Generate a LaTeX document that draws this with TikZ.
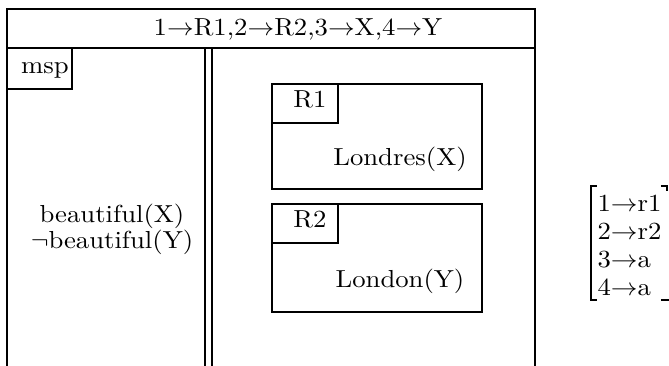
\documentclass[tikz,border=0pt]{standalone}
\usepackage{graphicx}
% text in this figure is set very slightly flattened
\newcommand{\squash}[1]{\scalebox{1.02}[0.94]{#1}}
\begin{document}
\begin{tikzpicture}[x=0.382pt,y=-0.382pt,
  frame/.style={line width=0.8pt},
  lbl/.style={inner sep=0pt,anchor=base},
  row/.style={inner sep=0pt,anchor=base west}]
\useasboundingbox (0,0) rectangle (669,366);
% outer frame, open at the bottom
\draw[frame] (7,366) -- (7,9) -- (535,9) -- (535,366);
\draw[frame] (7,48) -- (535,48);
\node[lbl] (head) at (298,36) {\squash{1$\rightarrow$R1,2$\rightarrow$R2,3$\rightarrow$X,4$\rightarrow$Y}};
% left column with its tag
\draw[frame] (7,48) rectangle (72,89);
\node[lbl] (msp) at (45,74) {\squash{msp}};
\node[lbl] (bx) at (112,223) {\squash{beautiful(X)}};
\node[lbl] (nby) at (112,249) {\squash{$\neg$beautiful(Y)}};
% double separator
\draw[frame] (205,48) -- (205,366);
\draw[frame] (212,48) -- (212,366);
% sub-boxes
\draw[frame] (272,84) rectangle (482,189);
\draw[frame] (272,84) rectangle (338,123);
\node[lbl] (r1) at (310,108) {\squash{R1}};
\node[lbl] (lx) at (400,166) {\squash{Londres(X)}};
\draw[frame] (272,204) rectangle (482,312);
\draw[frame] (272,204) rectangle (338,243);
\node[lbl] (r2) at (310,228) {\squash{R2}};
\node[lbl] (ly) at (400,288) {\squash{London(Y)}};
% assignment in brackets
\draw[frame] (597,186) -- (591,186) -- (591,300) -- (597,300);
\draw[frame] (661,186) -- (667,186) -- (667,191);
\draw[frame] (661,300) -- (669,300);
\node[row] (m1) at (597,212) {\squash{1$\rightarrow$r1}};
\node[row] (m2) at (597,240) {\squash{2$\rightarrow$r2}};
\node[row] (m3) at (597,268) {\squash{3$\rightarrow$a}};
\node[row] (m4) at (597,296) {\squash{4$\rightarrow$a}};
\end{tikzpicture}
\end{document}
